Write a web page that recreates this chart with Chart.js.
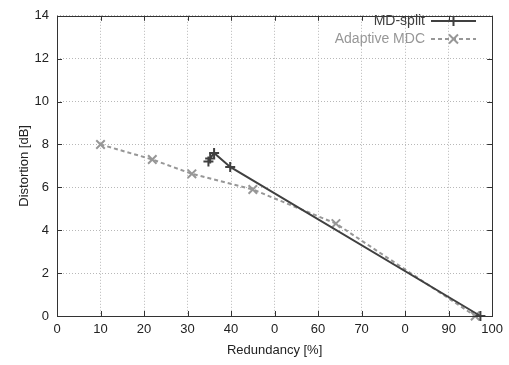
<!DOCTYPE html>
<html><head><meta charset="utf-8">
<script src="https://cdn.jsdelivr.net/npm/chart.js@4"></script>
<style>html,body{margin:0;padding:0;background:#fff}</style>
</head><body><canvas id="c" width="509" height="365"></canvas>
<script>
const xTickLabels = ['0','10','20','30','40','0','60','70','0','90','100'];
const yTickLabels = ['0','2','4','6','8','10','12','14'];
const seriesNames = ['MD-split', 'Adaptive MDC'];
const mdSplitX = [34.8, 35.2, 36.1, 39.8, 97.3];
const mdSplitY = [7.2, 7.35, 7.6, 6.95, 0];
const adaptiveX = [10, 21.9, 31, 45, 64.1, 96.1];
const adaptiveY = [8.0, 7.3, 6.63, 5.9, 4.31, 0];
const xTitle = 'Redundancy [%]';
const yTitle = 'Distortion [dB]';

const FONT = '"Liberation Sans", Arial, Helvetica, sans-serif';
const MD_COLOR = '#404040';
const AD_COLOR = '#979797';

const toPts = (xs, ys) => xs.map((x, i) => ({x, y: ys[i]}));

const framePlugin = {
  id: 'frame',
  afterDatasetsDraw(chart) {
    const {ctx, chartArea: a, scales: {x, y}} = chart;
    ctx.save();
    ctx.strokeStyle = '#333';
    ctx.lineWidth = 1;
    ctx.strokeRect(Math.round(a.left) + 0.5, Math.round(a.top) + 0.5, Math.round(a.right - a.left), Math.round(a.bottom - a.top));
    const L = 5;
    ctx.beginPath();
    x.ticks.forEach(t => {
      const px = Math.round(x.getPixelForValue(t.value)) + 0.5;
      ctx.moveTo(px, a.bottom); ctx.lineTo(px, a.bottom - L);
      ctx.moveTo(px, a.top); ctx.lineTo(px, a.top + L);
    });
    y.ticks.forEach(t => {
      const py = Math.round(y.getPixelForValue(t.value)) + 0.5;
      ctx.moveTo(a.left, py); ctx.lineTo(a.left + L, py);
      ctx.moveTo(a.right, py); ctx.lineTo(a.right - L, py);
    });
    ctx.stroke();
    ctx.restore();
  },
  afterDraw(chart) {
    const {ctx} = chart;
    ctx.save();
    ctx.font = '14px ' + FONT;
    ctx.textAlign = 'right';
    ctx.textBaseline = 'middle';
    const rows = [21, 39];
    chart.data.datasets.forEach((ds, i) => {
      const yy = rows[i];
      ctx.fillStyle = ds.borderColor;
      ctx.fillText(ds.label, 425, yy);
      ctx.strokeStyle = ds.borderColor;
      ctx.lineWidth = ds.borderWidth;
      ctx.setLineDash(ds.borderDash || []);
      ctx.beginPath(); ctx.moveTo(431, yy); ctx.lineTo(476, yy); ctx.stroke();
      ctx.setLineDash([]);
      const cx = 453.5, r = ds.pointRadius;
      ctx.lineWidth = ds.pointBorderWidth;
      ctx.beginPath();
      if (ds.pointStyle === 'cross') {
        ctx.moveTo(cx - r, yy); ctx.lineTo(cx + r, yy);
        ctx.moveTo(cx, yy - r); ctx.lineTo(cx, yy + r);
      } else {
        const d = r * 0.75;
        ctx.moveTo(cx - d, yy - d); ctx.lineTo(cx + d, yy + d);
        ctx.moveTo(cx - d, yy + d); ctx.lineTo(cx + d, yy - d);
      }
      ctx.stroke();
    });
    ctx.restore();
  }
};

new Chart(document.getElementById('c'), {
  type: 'scatter',
  data: {
    datasets: [
      {
        label: seriesNames[0], data: toPts(mdSplitX, mdSplitY), showLine: true,
        borderColor: MD_COLOR, backgroundColor: MD_COLOR, borderWidth: 2,
        pointStyle: 'cross', pointRadius: 5, pointBorderWidth: 2, clip: false
      },
      {
        label: seriesNames[1], data: toPts(adaptiveX, adaptiveY), showLine: true,
        borderColor: AD_COLOR, backgroundColor: AD_COLOR, borderWidth: 2, borderDash: [4, 3],
        pointStyle: 'crossRot', pointRadius: 6, pointBorderWidth: 2, clip: false
      }
    ]
  },
  options: {
    responsive: false, animation: false,
    layout: {padding: {left: 13, right: 13, top: 13, bottom: 3}},
    plugins: {legend: {display: false}, tooltip: {enabled: false}},
    scales: {
      x: {
        type: 'linear', min: 0, max: 100,
        afterFit: s => { s.height = 46; },
        ticks: {stepSize: 10, padding: 6, color: '#222', font: {family: FONT, size: 13},
          callback: (v, i) => xTickLabels[i], maxRotation: 0, autoSkip: false},
        grid: {color: '#b8b8b8', drawTicks: false, lineWidth: 1},
        border: {display: false, dash: [1, 2]},
        title: {display: true, text: xTitle, color: '#222', font: {family: FONT, size: 13}}
      },
      y: {
        type: 'linear', min: 0, max: 14,
        afterFit: s => { s.width = 44; },
        ticks: {stepSize: 2, padding: 8, color: '#222', font: {family: FONT, size: 13},
          callback: (v, i) => yTickLabels[i]},
        grid: {color: '#b8b8b8', drawTicks: false, lineWidth: 1},
        border: {display: false, dash: [1, 2]},
        title: {display: true, text: yTitle, color: '#222', font: {family: FONT, size: 13}}
      }
    }
  },
  plugins: [framePlugin]
});
</script>
</body></html>
